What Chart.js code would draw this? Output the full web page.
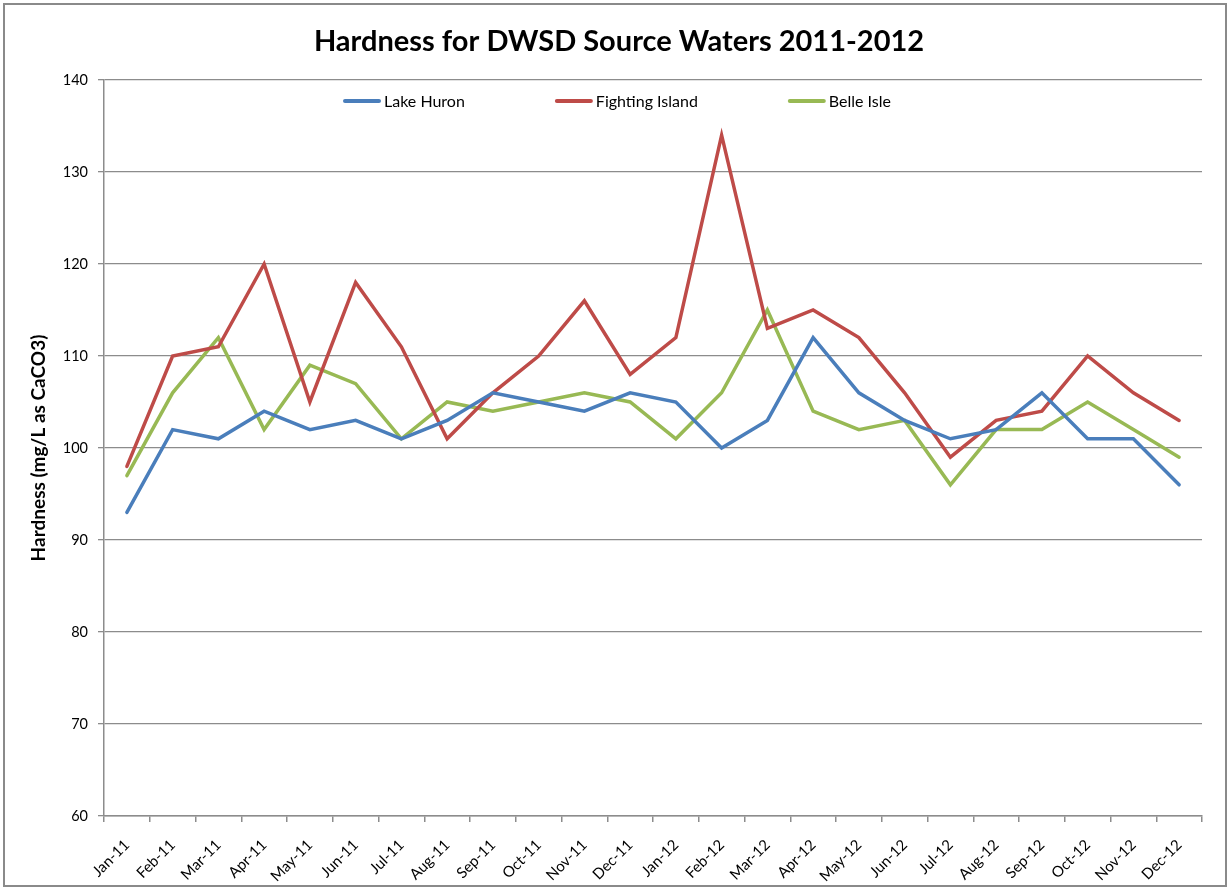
<!DOCTYPE html>
<html>
<head>
<meta charset="utf-8">
<title>Hardness for DWSD Source Waters 2011-2012</title>
<script src="https://cdn.jsdelivr.net/npm/chart.js@4/dist/chart.umd.min.js"></script>
<style>
  html, body { margin: 0; padding: 0; background: #ffffff; }
  #wrap { width: 1230px; height: 890px; position: relative; }
</style>
</head>
<body>
<div id="wrap"><canvas id="chart" width="1230" height="890"></canvas></div>
<script>
// Monthly hardness readings (mg/L as CaCO3)
const months = [
  'Jan-11','Feb-11','Mar-11','Apr-11','May-11','Jun-11','Jul-11','Aug-11','Sep-11','Oct-11','Nov-11','Dec-11',
  'Jan-12','Feb-12','Mar-12','Apr-12','May-12','Jun-12','Jul-12','Aug-12','Sep-12','Oct-12','Nov-12','Dec-12'
];
const lakeHuron = [93,102,101,104,102,103,101,103,106,105,104,106,105,100,103,112,106,103,101,102,106,101,101,96];
const fightingIsland = [98,110,111,120,105,118,111,101,106,110,116,108,112,134,113,115,112,106,99,103,104,110,106,103];
const belleIsle = [97,106,112,102,109,107,101,105,104,105,106,105,101,106,115,104,102,103,96,102,102,105,102,99];

const seriesNames = ['Lake Huron', 'Fighting Island', 'Belle Isle'];
const seriesColors = ['#4A7EBB', '#BE4B48', '#98B954'];
const yTicks = { min: 60, max: 140, step: 10 };
const chartTitle = 'Hardness for DWSD Source Waters 2011-2012';

const FONT = 'Lato, "Liberation Sans", sans-serif';
const GRID = '#8c8c8c';

// White background, outer frame and the centred title
const framePlugin = {
  id: 'frame',
  beforeDraw(chart) {
    const { ctx, width, height } = chart;
    ctx.save();
    ctx.fillStyle = '#ffffff';
    ctx.fillRect(0, 0, width, height);
    ctx.strokeStyle = '#8a8a8a';
    ctx.lineWidth = 2;
    ctx.strokeRect(4, 4, width - 8, height - 8);
    ctx.fillStyle = '#000000';
    ctx.font = 'bold 29px ' + FONT;
    ctx.textAlign = 'center';
    ctx.textBaseline = 'middle';
    ctx.fillText(chartTitle, width / 2 + 4, 42);
    ctx.restore();
  }
};

// Horizontal legend drawn just inside the top of the plot area
const insideLegend = {
  id: 'insideLegend',
  afterDatasetsDraw(chart) {
    const { ctx, chartArea, width } = chart;
    const sample = 38, textGap = 3, itemGap = 90;
    ctx.save();
    ctx.font = '16px ' + FONT;
    ctx.textBaseline = 'middle';
    const items = chart.data.datasets.map(ds => ({
      label: ds.label, color: ds.borderColor,
      w: sample + textGap + ctx.measureText(ds.label).width
    }));
    const total = items.reduce((s, it) => s + it.w, 0) + itemGap * (items.length - 1);
    let x = width / 2 + 2 - total / 2;
    const y = chartArea.top + 21;
    items.forEach(it => {
      ctx.strokeStyle = it.color;
      ctx.lineWidth = 4;
      ctx.lineCap = 'round';
      ctx.beginPath();
      ctx.moveTo(x + 2, y);
      ctx.lineTo(x + sample - 2, y);
      ctx.stroke();
      ctx.fillStyle = '#000000';
      ctx.fillText(it.label, x + sample + textGap, y + 1);
      x += it.w + itemGap;
    });
    ctx.restore();
  }
};

const seriesData = [lakeHuron, fightingIsland, belleIsle];

new Chart(document.getElementById('chart'), {
  type: 'line',
  data: {
    labels: months,
    datasets: seriesData.map((vals, i) => ({
      label: seriesNames[i],
      data: vals,
      borderColor: seriesColors[i],
      backgroundColor: seriesColors[i],
      borderWidth: 3.5,
      pointRadius: 0,
      pointHoverRadius: 0,
      tension: 0,
      fill: false,
      borderJoinStyle: 'miter',
      borderCapStyle: 'round'
    }))
  },
  options: {
    responsive: false,
    animation: false,
    devicePixelRatio: 1,
    layout: { padding: { left: 0, right: 28, top: 80, bottom: 0 } },
    plugins: {
      legend: { display: false },
      tooltip: { enabled: false },
      title: { display: false }
    },
    scales: {
      x: {
        type: 'category',
        offset: true,
        border: { display: true, color: GRID, width: 1.5 },
        grid: {
          offset: true,
          drawOnChartArea: false,
          drawTicks: true,
          tickLength: 6,
          color: GRID,
          lineWidth: 1.5
        },
        ticks: {
          color: '#000000',
          font: { family: FONT, size: 15 },
          maxRotation: 45,
          minRotation: 45,
          autoSkip: false,
          padding: 14
        },
        afterFit(scale) { scale.height = 74; }
      },
      y: {
        min: yTicks.min,
        max: yTicks.max,
        border: { display: true, color: GRID, width: 1.5 },
        grid: {
          color: GRID,
          lineWidth: 1.3,
          drawTicks: true,
          tickLength: 6
        },
        ticks: {
          stepSize: yTicks.step,
          color: '#000000',
          font: { family: FONT, size: 14.5 },
          padding: 10
        },
        title: {
          display: true,
          text: 'Hardness (mg/L as CaCO3)',
          color: '#000000',
          font: { family: FONT, size: 19, weight: 'bold', lineHeight: 1.2 },
          padding: { top: 27, bottom: 0 }
        },
        afterFit(scale) { scale.width = 104; }
      }
    }
  },
  plugins: [framePlugin, insideLegend]
});
</script>
</body>
</html>
